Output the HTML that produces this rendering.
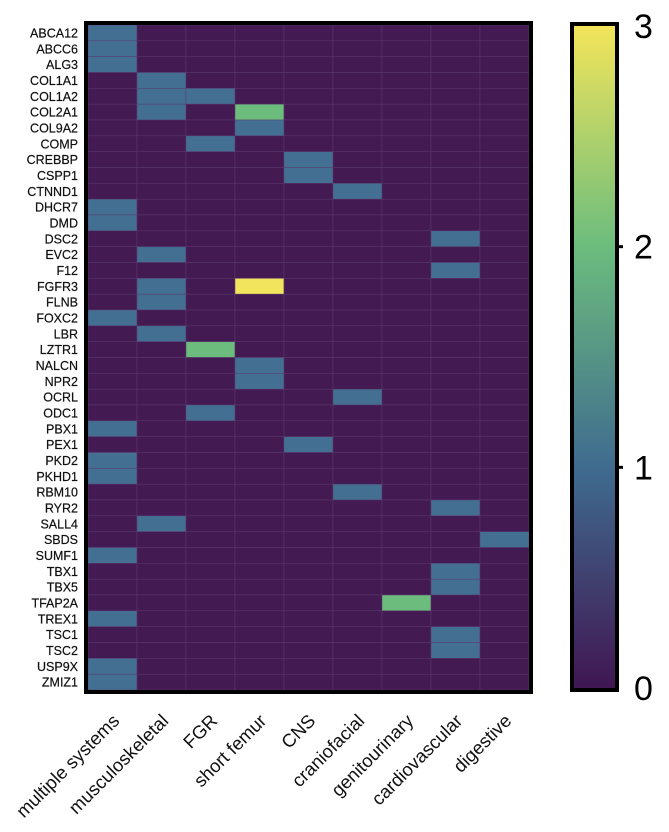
<!DOCTYPE html>
<html><head><meta charset="utf-8"><style>
body{margin:0;background:#fff;}
svg text{font-family:"Liberation Sans",Arial,sans-serif;}
</style></head><body>
<svg id="chart" width="669" height="827" xmlns="http://www.w3.org/2000/svg">
<defs><linearGradient id="cg" x1="0" y1="1" x2="0" y2="0">
<stop offset="0" stop-color="#40164f"/><stop offset="0.333" stop-color="#3f6b8f"/><stop offset="0.667" stop-color="#6cbd7d"/><stop offset="1" stop-color="#f4e55a"/>
</linearGradient></defs>
<g id="cells"></g>
<g id="ylabels"></g>
<g id="xlabels"></g>
<rect x="86" y="23" width="445" height="669" fill="none" stroke="#000" stroke-width="4"/>
<rect x="572" y="24" width="45" height="666" fill="url(#cg)" stroke="#000" stroke-width="4"/>
<g id="cticks"></g>
</svg>
<script>
const genes=["ABCA12","ABCC6","ALG3","COL1A1","COL1A2","COL2A1","COL9A2","COMP","CREBBP","CSPP1","CTNND1","DHCR7","DMD","DSC2","EVC2","F12","FGFR3","FLNB","FOXC2","LBR","LZTR1","NALCN","NPR2","OCRL","ODC1","PBX1","PEX1","PKD2","PKHD1","RBM10","RYR2","SALL4","SBDS","SUMF1","TBX1","TBX5","TFAP2A","TREX1","TSC1","TSC2","USP9X","ZMIZ1"];
const systems=["multiple systems","musculoskeletal","FGR","short femur","CNS","craniofacial","genitourinary","cardiovascular","digestive"];
// nonzero entries: [geneIndex, systemIndex, value]
const entries=[[0,0,1],[1,0,1],[2,0,1],[3,1,1],[4,1,1],[4,2,1],[5,1,1],[5,3,2],[6,3,1],[7,2,1],[8,4,1],[9,4,1],[10,5,1],[11,0,1],[12,0,1],[13,7,1],[14,1,1],[15,7,1],[16,3,3],[16,1,1],[17,1,1],[18,0,1],[19,1,1],[20,2,2],[21,3,1],[22,3,1],[23,5,1],[24,2,1],[25,0,1],[26,4,1],[27,0,1],[28,0,1],[29,5,1],[30,7,1],[31,1,1],[32,8,1],[33,0,1],[34,7,1],[35,7,1],[36,6,2],[37,0,1],[38,7,1],[39,7,1],[40,0,1],[41,0,1]];
const cbTicks=[0,1,2,3];
const NS="http://www.w3.org/2000/svg";
const x0=88,x1=529,y0=25,y1=690,vmax=3;
const cw=(x1-x0)/systems.length, rh=(y1-y0)/genes.length;
const xs=i=>x0+i*cw, ys=i=>y0+i*rh;
const cbTop=26,cbBot=688, cy=v=>cbBot-(v/vmax)*(cbBot-cbTop);
const colors=["#431a52","#426f92","#6cbd7d","#f2e45c"];
const vals=genes.map(()=>systems.map(()=>0));
entries.forEach(e=>{vals[e[0]][e[1]]=e[2];});
function mk(t,a){const e=document.createElementNS(NS,t);for(const k in a)e.setAttribute(k,a[k]);return e;}
const cells=document.getElementById('cells');
vals.forEach((row,r)=>row.forEach((v,c)=>{
 const el=mk('rect',{x:xs(c),y:ys(r),width:cw,height:rh,fill:colors[Math.round(v)],stroke:'#5a3a6e','stroke-width':0.5});
 
 
 cells.appendChild(el);
}));
const yl=document.getElementById('ylabels');
genes.forEach((g,i)=>{
 const t=mk('text',{x:78,y:ys(i)+rh/2+4.5,'text-anchor':'end','font-size':12.5,fill:'#111',stroke:'#111','stroke-width':0.2});
 t.textContent=g;
 
 
 yl.appendChild(t);
});
const xl=document.getElementById('xlabels');
systems.forEach((s,i)=>{
 const cx=xs(i)+cw/2+8, yy=722;
 const t=mk('text',{x:cx,y:yy,'text-anchor':'end','font-size':18.5,fill:'#111',transform:`rotate(-45 ${cx} ${yy})`});
 t.textContent=s;
 
 
 xl.appendChild(t);
});
const ct=document.getElementById('cticks');
cbTicks.forEach(v=>{
 const y=cy(v);
 if(v>0&&v<vmax){
  const l=mk('line',{x1:615,x2:623,y1:y,y2:y,stroke:'#000','stroke-width':3});
  
  
  ct.appendChild(l);
 }
 const t=mk('text',{x:634,y:y+12,'font-size':34,fill:'#000'});
 t.textContent=v;
 
 
 ct.appendChild(t);
});
</script>
</body></html>
